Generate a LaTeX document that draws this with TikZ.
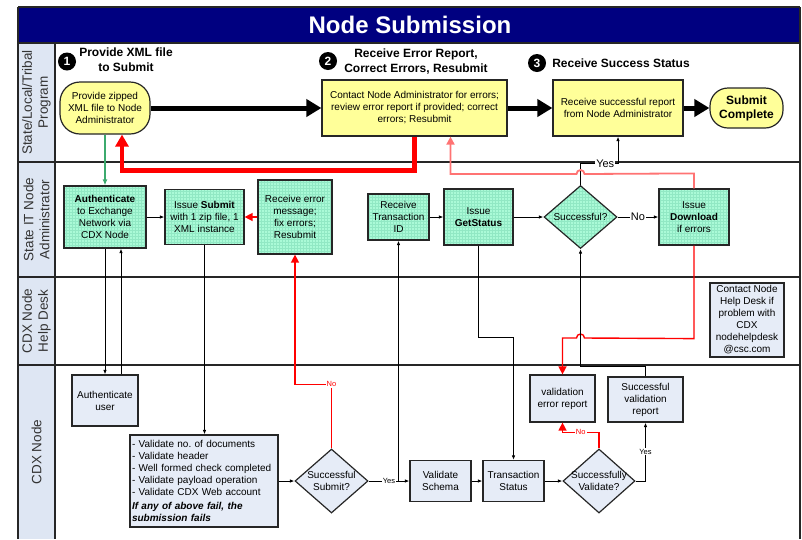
\documentclass[tikz,border=0pt]{standalone}
\usepackage{fontspec}
\setmainfont{Liberation Sans}
\usetikzlibrary{shapes.geometric,arrows.meta,patterns}

\definecolor{titlenavy}{RGB}{0,0,128}
\definecolor{noteyellow}{RGB}{255,255,153}
\definecolor{mint}{RGB}{170,250,215}
\definecolor{mintgrid}{RGB}{145,232,196}
\definecolor{cdxblue}{RGB}{230,236,247}
\definecolor{lanegray}{RGB}{222,230,243}
\definecolor{flowgreen}{RGB}{60,170,110}

\tikzset{
  box/.style={draw=black!85, line width=1.2pt, align=center, inner sep=1pt, font=\fontsize{10}{12}\selectfont},
  greenfill/.style={preaction={fill=mint}, pattern=grid, pattern color=mintgrid},
  yellowbox/.style={box, fill=noteyellow},
  greenbox/.style={box, greenfill},
  cdxbox/.style={box, fill=cdxblue},
  decision/.style={box, diamond, inner sep=-4pt},
  stepmark/.style={circle, fill=black, text=white, inner sep=0pt, minimum size=18pt, font=\bfseries\fontsize{12}{12}\selectfont},
  steptext/.style={align=center, font=\bfseries\fontsize{12}{15}\selectfont},
  lanelabel/.style={rotate=90, align=center, text=black!80, font=\fontsize{13.5}{16}\selectfont},
  lane/.style={draw=black!85, line width=1.2pt},
  bigflow/.style={line width=5pt, -{Triangle[length=15pt,width=17pt]}},
  flow/.style={line width=0.9pt, -{Latex[length=4.5pt,width=3.5pt]}},
  greenflow/.style={flowgreen, line width=1.2pt, -{Latex[length=6pt,width=5pt]}},
  redflow/.style={red, line width=1.4pt, -{Triangle[length=8pt,width=8pt]}},
  redthick/.style={red, line width=4.5pt, -{Triangle[length=12pt,width=13pt]}},
  redlight/.style={red!55, line width=1.8pt, -{Triangle[length=8pt,width=8pt]}},
  lbl/.style={fill=white, inner sep=1pt, font=\fontsize{11}{11}\selectfont},
  tinylbl/.style={fill=white, inner sep=1pt, font=\fontsize{7.5}{7.5}\selectfont},
}

\begin{document}
\begin{tikzpicture}[x=1pt,y=-1pt]
\useasboundingbox (0,0) rectangle (802,539);
% title band
\fill[titlenavy] (18,7) rectangle (800,43);
\node (title) at (410,25) [text=white, font=\bfseries\fontsize{24}{24}\selectfont] {Node Submission};
% lane label column
\fill[lanegray] (18,43) rectangle (55,539);
% lane lines
\foreach \y in {7,43,162,277,365} \draw[lane] (18,\y) -- (800,\y);
\draw[lane] (18,7) -- (18,539);
\draw[lane] (55,43) -- (55,539);
\draw[lane] (800,7) -- (800,539);
% lane labels
\node (lane1) at (36.5,102.5) [lanelabel] {State/Local/Tribal\\Program};
\node (lane2) at (36.5,219.5) [lanelabel] {State IT Node\\Administrator};
\node (lane3) at (36.5,321) [lanelabel] {CDX Node\\Help Desk};
\node (lane4) at (36.5,452) [lanelabel] {CDX Node};
% step headings
\node (s1) at (67,61.5) [stepmark] {1};
\node (t1) at (126,60) [steptext] {Provide XML file\\to Submit};
\node (s2) at (328,61) [stepmark] {2};
\node (t2) at (416,62) [steptext] {Receive Error Report,\\Correct Errors, Resubmit};
\node (s3) at (537,63) [stepmark] {3};
\node (t3) at (621,63) [steptext] {Receive Success Status};
% program lane
\node (start) at (105,108) [yellowbox, rounded corners=20pt, minimum width=90pt, minimum height=52pt] {Provide zipped\\XML file to Node\\Administrator};
\node (b2) at (414.5,108) [yellowbox, minimum width=185pt, minimum height=56pt] {Contact Node Administrator for errors;\\review error report if provided; correct\\errors; Resubmit};
\node (b3) at (618,108) [yellowbox, minimum width=130pt, minimum height=56pt] {Receive successful report\\from Node Administrator};
\node (done) at (746.5,108) [yellowbox, rounded corners=18pt, minimum width=73pt, minimum height=40pt, font=\bfseries\fontsize{12}{14}\selectfont] {Submit\\Complete};
% node administrator lane
\node (auth) at (105,217) [greenbox, minimum width=82pt, minimum height=62pt] {\textbf{Authenticate}\\to Exchange\\Network via\\CDX Node};
\node (submit) at (204.5,217) [greenbox, minimum width=79pt, minimum height=55pt] {Issue \textbf{Submit}\\with 1 zip file, 1\\XML instance};
\node (rerr) at (295,217) [greenbox, minimum width=74pt, minimum height=74pt] {Receive error\\message;\\fix errors;\\Resubmit};
\node (rtx) at (398.5,217) [greenbox, minimum width=61pt, minimum height=46pt] {Receive\\Transaction\\ID};
\node (gst) at (478.5,217) [greenbox, minimum width=69pt, minimum height=56pt] {Issue\\\textbf{GetStatus}};
\node (succ) at (580.5,217) [decision, greenfill, minimum width=73pt, minimum height=63pt] {Successful?};
\node (dl) at (694,217) [greenbox, minimum width=70pt, minimum height=56pt] {Issue\\\textbf{Download}\\if errors};
% help desk lane
\node (help) at (747,320) [cdxbox, minimum width=74pt, minimum height=74pt] {Contact Node\\Help Desk if\\problem with\\CDX\\nodehelpdesk\\@csc.com};
% cdx node lane
\node (auser) at (105,400.5) [cdxbox, minimum width=66pt, minimum height=51pt] {Authenticate\\user};
\node (vlist) at (204,481) [cdxbox, text width=144pt, inner xsep=2pt, align=left, minimum height=92pt] {- Validate no.\ of documents\\- Validate header\\- Well formed check completed\\- Validate payload operation\\- Validate CDX Web account\\[2pt]{\bfseries\itshape If any of above fail, the}\\{\bfseries\itshape submission fails}};
\node (ssub) at (331.5,481) [decision, fill=cdxblue, minimum width=73pt, minimum height=64pt] {Successful\\Submit?};
\node (vsch) at (440.5,481) [cdxbox, minimum width=61pt, minimum height=41pt] {Validate\\Schema};
\node (tstat) at (513.5,481) [cdxbox, minimum width=61pt, minimum height=41pt] {Transaction\\Status};
\node (sval) at (599,481) [decision, fill=cdxblue, minimum width=72pt, minimum height=64pt] {Successfully\\Validate?};
\node (verr) at (562.5,398.5) [cdxbox, minimum width=65pt, minimum height=47pt] {validation\\error report};
\node (vok) at (645.5,399.5) [cdxbox, minimum width=75pt, minimum height=45pt] {Successful\\validation\\report};
% main flow
\draw[bigflow] (start.east) -- (b2.west);
\draw[bigflow] (b2.east) -- (b3.west);
\draw[bigflow] (b3.east) -- (done.west);
% resubmit loop
\draw[redthick] (b2.south) -- ++(0,34) -| ([xshift=17pt]start.south);
\draw[greenflow] (start.south) -- (auth.north);
% node administrator flow
\draw[flow] (auth.east) -- (submit.west);
\draw[redflow] (rerr.west) -- (submit.east);
\draw[flow] (rtx.east) -- (gst.west);
\draw[flow] (gst.east) -- (succ.west);
\draw[flow] (succ.east) -- node[lbl]{No} (dl.west);
\draw[flow] (succ.north) -- ++(0,-21) -| node[lbl,pos=0.33]{Yes} (b3.south);
\draw[redlight] (dl.north) -- ++(0,-15) -- (584.5,174) arc[start angle=0,end angle=180,radius=4pt] -| ([xshift=36pt]b2.south);
\draw[redflow] (dl.south) -- ++(0,93) -- (584.5,338) arc[start angle=0,end angle=180,radius=4pt] -| (verr.north);
% cdx node flow
\draw[flow] (auth.south) -- (auser.north);
\draw[flow] ([xshift=16pt]auser.north) -- ([xshift=16pt]auth.south);
\draw[flow] (submit.south) -- (submit.south |- vlist.north);
\draw[flow] (vlist.east) -- (ssub.west);
\draw[redflow] (ssub.north) -- ++(0,-64) node[tinylbl]{No} -| (rerr.south);
\draw[flow] (ssub.east) -- node[tinylbl]{Yes} (vsch.west);
\draw[flow] (ssub.east -| rtx.south) -- (rtx.south);
\draw[flow] (gst.south) -- ++(0,92) -| (tstat.north);
\draw[flow] (vsch.east) -- (tstat.west);
\draw[flow] (tstat.east) -- (sval.west);
\draw[redflow] (sval.north) -- ++(0,-16) -| node[tinylbl,pos=0.25]{No} (verr.south);
\draw[flow] (sval.east) -| node[tinylbl,pos=0.75]{Yes} (vok.south);
\draw[flow] (vok.north) -- ++(0,-10) -| (succ.south);
\end{tikzpicture}
\end{document}
